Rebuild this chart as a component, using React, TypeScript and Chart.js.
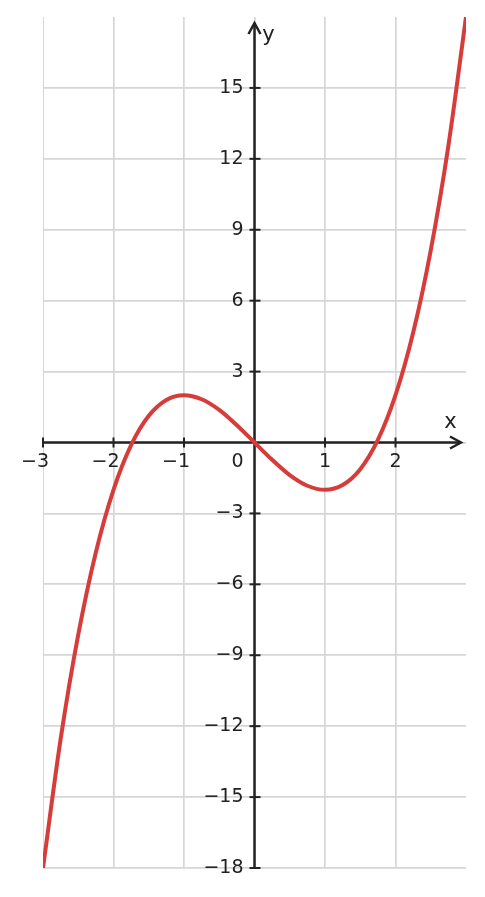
import React, { useEffect, useRef } from "react";
import { Chart, registerables } from "chart.js";

Chart.register(...registerables);

const xValues = [-3, -2.75, -2.5, -2.25, -2, -1.75, -1.5, -1.25, -1, -0.75, -0.5, -0.25, 0, 0.25, 0.5, 0.75, 1, 1.25, 1.5, 1.75, 2, 2.25, 2.5, 2.75, 3];
const yValues = [-18, -12.55, -8.13, -4.64, -2, -0.11, 1.13, 1.8, 2, 1.83, 1.38, 0.73, 0, -0.73, -1.38, -1.83, -2, -1.8, -1.13, 0.11, 2, 4.64, 8.13, 12.55, 18];

const xTickValues = [-3, -2, -1, 1, 2];
const xTickLabels = ["−3", "−2", "−1", "1", "2"];
const yTickValues = [15, 12, 9, 6, 3, -3, -6, -9, -12, -15, -18];
const yTickLabels = ["15", "12", "9", "6", "3", "−3", "−6", "−9", "−12", "−15", "−18"];
const originLabel = "0";
const xAxisTitle = "x";
const yAxisTitle = "y";

const FONT = '"DejaVu Sans", sans-serif';
const AXIS_COLOR = "#222222";
const GRID_COLOR = "#d6d6d6";

const axesPlugin = {
  id: "axesAtOrigin",
  beforeDatasetsDraw(chart: any) {
    const { ctx, scales, chartArea } = chart;
    const xs = scales.x;
    const ys = scales.y;
    const x0 = xs.getPixelForValue(0);
    const y0 = ys.getPixelForValue(0);
    ctx.save();
    ctx.strokeStyle = AXIS_COLOR;
    ctx.fillStyle = AXIS_COLOR;
    ctx.lineWidth = 2.5;
    ctx.lineJoin = "miter";
    ctx.lineCap = "butt";

    // y axis
    const yBottom = ys.getPixelForValue(-18);
    const yTip = chartArea.top + 6;
    ctx.beginPath();
    ctx.moveTo(x0, yBottom);
    ctx.lineTo(x0, yTip + 1);
    ctx.stroke();
    ctx.beginPath();
    ctx.moveTo(x0 - 6, yTip + 11);
    ctx.lineTo(x0, yTip);
    ctx.lineTo(x0 + 6, yTip + 11);
    ctx.stroke();

    // x axis
    const xLeft = xs.getPixelForValue(-3);
    const xTip = chartArea.right - 5;
    ctx.beginPath();
    ctx.moveTo(xLeft, y0);
    ctx.lineTo(xTip - 1, y0);
    ctx.stroke();
    ctx.beginPath();
    ctx.moveTo(xTip - 11, y0 - 6);
    ctx.lineTo(xTip, y0);
    ctx.lineTo(xTip - 11, y0 + 6);
    ctx.stroke();

    // ticks
    ctx.lineWidth = 2;
    xTickValues.forEach((v) => {
      const px = xs.getPixelForValue(v);
      ctx.beginPath();
      ctx.moveTo(px, y0 - 5);
      ctx.lineTo(px, y0 + 5);
      ctx.stroke();
    });
    yTickValues.forEach((v) => {
      const py = ys.getPixelForValue(v);
      ctx.beginPath();
      ctx.moveTo(x0 - 5, py);
      ctx.lineTo(x0 + 6, py);
      ctx.stroke();
    });

    // labels
    ctx.font = `19px ${FONT}`;
    ctx.textBaseline = "middle";
    xTickValues.forEach((v, i) => {
      const px = xs.getPixelForValue(v);
      const label = xTickLabels[i];
      const digits = label.replace("−", "");
      const dw = ctx.measureText(digits).width;
      ctx.textAlign = "right";
      ctx.fillText(label, px + dw / 2, y0 + 20);
    });
    ctx.textAlign = "right";
    ctx.fillText(originLabel, x0 - 11, y0 + 20);
    yTickValues.forEach((v, i) => {
      const py = ys.getPixelForValue(v);
      ctx.fillText(yTickLabels[i], x0 - 11, py);
    });

    ctx.font = `21px ${FONT}`;
    ctx.textAlign = "center";
    ctx.fillText(xAxisTitle, xs.getPixelForValue(2.78), y0 - 20);
    ctx.fillText(yAxisTitle, x0 + 14, chartArea.top + 19);
    ctx.restore();
  },
};

export default function App() {
  const ref = useRef<HTMLCanvasElement | null>(null);
  useEffect(() => {
    if (!ref.current) return;
    const chart = new Chart(ref.current, {
      type: "line",
      data: {
        datasets: [
          {
            data: xValues.map((x, i) => ({ x, y: yValues[i] })),
            borderColor: "#d63c3a",
            borderWidth: 4,
            pointRadius: 0,
            cubicInterpolationMode: "monotone",
            fill: false,
          },
        ],
      },
      options: {
        responsive: false,
        animation: false,
        events: [],
        layout: { padding: { left: 43, right: 19, top: 17, bottom: 29 } },
        plugins: { legend: { display: false }, tooltip: { enabled: false } },
        scales: {
          x: {
            type: "linear",
            min: -3,
            max: 3,
            ticks: { display: false, stepSize: 1 },
            grid: {
              color: (c: any) => (c.tick && c.tick.value === 3 ? "rgba(0,0,0,0)" : GRID_COLOR),
              lineWidth: (c: any) => (c.tick && c.tick.value === -3 ? 1 : 1.7),
              drawTicks: false,
            },
            border: { display: false },
          },
          y: {
            type: "linear",
            min: -18,
            max: 18,
            ticks: { display: false, stepSize: 3 },
            grid: {
              color: (c: any) => (c.tick && c.tick.value === 18 ? "rgba(0,0,0,0)" : GRID_COLOR),
              lineWidth: 1.7,
              drawTicks: false,
            },
            border: { display: false },
          },
        },
      },
      plugins: [axesPlugin],
    } as any);
    return () => chart.destroy();
  }, []);
  return (
    <div style={{ position: "fixed", left: 0, top: 0, width: 485, height: 897, background: "#fff" }}>
      <canvas ref={ref} width={485} height={897} style={{ display: "block" }} />
    </div>
  );
}
